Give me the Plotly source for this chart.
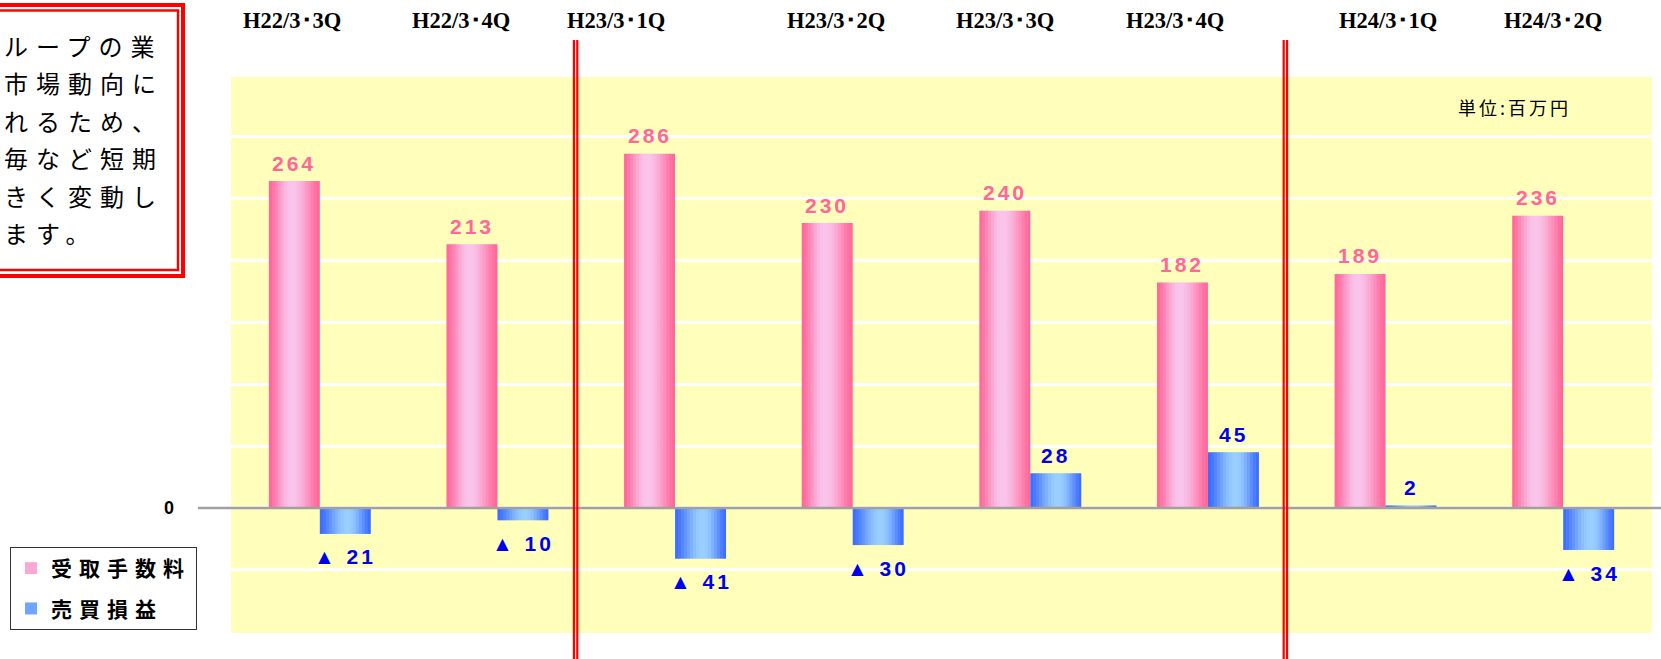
import math
import plotly.graph_objects as go

# ---------------- data ----------------
categories = ["H22/3･3Q", "H22/3･4Q", "H23/3･1Q", "H23/3･2Q",
              "H23/3･3Q", "H23/3･4Q", "H24/3･1Q", "H24/3･2Q"]
fees = [264, 213, 286, 230, 240, 182, 189, 236]          # 受取手数料
trading = [-21, -10, -41, -30, 28, 45, 2, -34]            # 売買損益
series_names = ["受取手数料", "売買損益"]
unit_label = "単位:百万円"
note_lines = ["ループの業", "市場動向に", "れるため、", "毎など短期", "きく変動し", "ます。"]

# ---------------- layout geometry ----------------
W, H = 1661, 659
PL, PT, PW, PH = 231, 77, 1421, 556
def px(x):
    return (x - PL) / PW
def py(y):
    return (PT + PH - y) / PH

BARW = 0.287           # bar width in category units
N = 17                 # gradient slices
PINK_EDGE, PINK_LIGHT = (255, 102, 153), (249, 196, 236)
BLUE_EDGE, BLUE_LIGHT = (60, 108, 255), (153, 206, 255)

def grad(t, edge, light, peak):
    if t < peak:
        tp = 0.5 * t / peak
    else:
        tp = 0.5 + 0.5 * (t - peak) / (1 - peak)
    s = math.sin(math.pi * tp) ** 1.5
    c = [round(e + (l - e) * s) for e, l in zip(edge, light)]
    return "rgb(%d,%d,%d)" % tuple(c)

fig = go.Figure()
w = BARW / N
for si, (vals, edge, light, peak, base) in enumerate([
        (fees, PINK_EDGE, PINK_LIGHT, 0.45, -BARW),
        (trading, BLUE_EDGE, BLUE_LIGHT, 0.55, 0.0)]):
    for k in range(N):
        t = (k + 0.5) / N
        fig.add_trace(go.Bar(
            x=categories, y=vals,
            offset=base + k * w,
            width=w + (0.003 if k < N - 1 else 0),
            marker=dict(color=grad(t, edge, light, peak), line=dict(width=0)),
            name='<span style="letter-spacing:7px">%s</span>' % series_names[si],
            legendgroup=series_names[si],
            showlegend=(k == 4),
            hoverinfo="skip",
        ))

ann = []
# category labels at top
label_shift = [-28, -36, -59, -17, -25, -33, 2, -10]
for c, s in zip(categories, label_shift):
    ann.append(dict(x=c, xref="x", xshift=s, y=py(21), yref="paper",
                    text="<b>%s</b>" % c, showarrow=False,
                    font=dict(family="Liberation Serif", size=22.5, color="black"),
                    xanchor="center", yanchor="middle"))
# value labels
for c, v in zip(categories, fees):
    ann.append(dict(x=c, xref="x", xshift=-25.5, y=v, yref="y", yshift=18,
                    text='<span style="letter-spacing:3px">%d</span>' % v,
                    showarrow=False, xanchor="center", yanchor="middle",
                    font=dict(family="Liberation Sans", size=21, color="#FF6699", weight="bold")))
for c, v in zip(categories, trading):
    txt = str(v) if v >= 0 else "▲ %d" % abs(v)
    ann.append(dict(x=c, xref="x", xshift=25.5, y=v, yref="y",
                    yshift=18 if v >= 0 else -23,
                    text='<span style="letter-spacing:3px">%s</span>' % txt,
                    showarrow=False, xanchor="center", yanchor="middle",
                    font=dict(family="Liberation Sans", size=21, color="#0000EE", weight="bold")))
# unit
ann.append(dict(x=px(1514), y=py(107), xref="paper", yref="paper",
                text='<span style="letter-spacing:3px">%s</span>' % unit_label,
                showarrow=False, xanchor="center", yanchor="middle",
                font=dict(family="Noto Sans CJK JP", size=18, color="black")))
# note text box (line pitch ~37.5px)
ann.append(dict(x=px(2), y=py(138.5), xref="paper", yref="paper",
                text="<br>".join('<span style="font-size:24px;letter-spacing:8px">%s</span>' % t
                                 for t in note_lines),
                showarrow=False, xanchor="left", yanchor="middle", align="left",
                font=dict(family="Noto Sans CJK JP", size=28.8, color="black")))

shapes = [
    # note box double border
    dict(type="rect", xref="paper", yref="paper", x0=px(-20), x1=px(183),
         y0=py(276), y1=py(5), line=dict(color="red", width=4),
         fillcolor="white", layer="below"),
    dict(type="rect", xref="paper", yref="paper", x0=px(-20), x1=px(178),
         y0=py(270), y1=py(10.5), line=dict(color="red", width=2.4),
         layer="below"),
    # zero line
    dict(type="line", xref="paper", yref="y", x0=px(198), x1=px(1665),
         y0=0, y1=0, line=dict(color="#A0A0A0", width=2.6), layer="above"),
]
# red double separators
for xc in [1.44, 5.436]:
    for d in [-0.0095, 0.0095]:
        shapes.append(dict(type="line", xref="x", yref="paper",
                           x0=xc + d, x1=xc + d, y0=py(40), y1=py(670),
                           line=dict(color="red", width=2.2), layer="above"))

fig.update_layout(
    width=W, height=H,
    margin=dict(l=PL, r=W - PL - PW, t=PT, b=H - PT - PH),
    paper_bgcolor="white", plot_bgcolor="#FFFFBB",
    barmode="overlay",
    showlegend=True,
    legend=dict(x=px(10), y=py(547), xanchor="left", yanchor="top",
                bgcolor="white", bordercolor="#333333", borderwidth=1,
                traceorder="grouped", tracegroupgap=10,
                font=dict(family="Noto Sans CJK JP", size=21, color="black", weight="bold")),
    xaxis=dict(type="category", range=[-0.5, 7.5], showticklabels=False,
               showgrid=False, zeroline=False, showline=False, ticks=""),
    yaxis=dict(range=[-101, 348], tickvals=[-50, 0, 50, 100, 150, 200, 250, 300],
               ticktext=["", "0", "", "", "", "", "", ""],
               showgrid=True, gridcolor="white", gridwidth=3,
               zeroline=False, showline=False, ticks="",
               ticklabelstandoff=56,
               tickfont=dict(family="Liberation Sans", size=18, color="black", weight="bold")),
    annotations=ann, shapes=shapes,
)

fig.write_html("out.html", config={"displayModeBar": False},
               post_script="document.body.style.margin='0px';")
